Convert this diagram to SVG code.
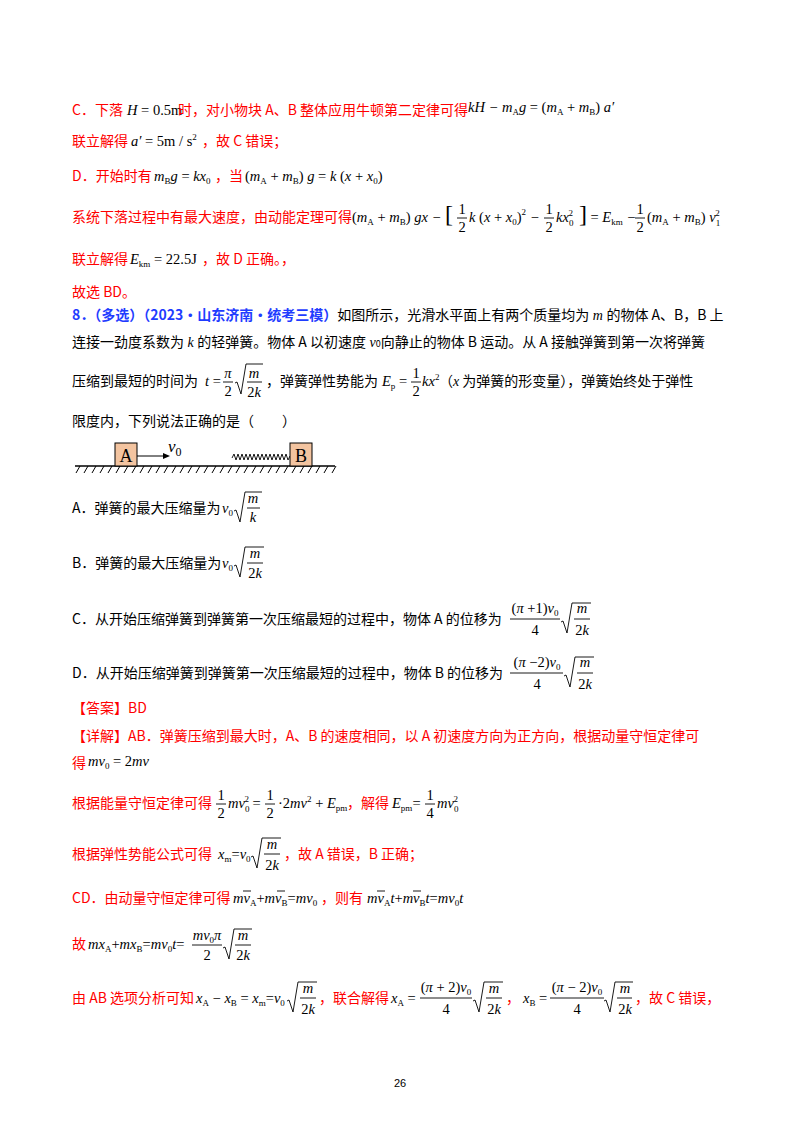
<svg xmlns="http://www.w3.org/2000/svg" width="800" height="1132" viewBox="0 0 800 1132">
<style>
.c{font-family:"Noto Sans CJK SC",sans-serif;font-size:14px}
.r{fill:#f00}
.bl{fill:#1f3cff;font-weight:bold}
.m{font-family:"Liberation Serif",serif;font-style:italic;font-size:14.5px;fill:#000}
.n{font-style:normal}
.sb{font-size:9px;font-style:normal}
.sp{font-size:9px;font-style:normal}
.ln{stroke:#000;stroke-width:0.9;fill:none}
</style>
<rect width="800" height="1132" fill="#fff"/>
<g id="solution-top">
<text x="72" y="115" class="c r">C．下落</text>
<text x="127" y="115" class="m">H <tspan class="n">= 0.5m</tspan></text>
<text x="178" y="115" class="c r">时，对小物块 A、B 整体应用牛顿第二定律可得</text>
<text x="468" y="112" class="m">kH − m<tspan class="sb" dy="3">A</tspan><tspan dy="-3">g <tspan class="n">= (</tspan>m</tspan><tspan class="sb" dy="3">A</tspan><tspan dy="-3" class="n"> + </tspan><tspan dy="0">m</tspan><tspan class="sb" dy="3">B</tspan><tspan dy="-3" class="n">)</tspan> a′</text>

<text x="72" y="146" class="c r">联立解得</text>
<text x="131" y="146" class="m">a′ <tspan class="n">= 5m / s</tspan><tspan class="sp" dy="-6">2</tspan></text>
<text x="202" y="146" class="c r">，故 C 错误；</text>

<text x="72" y="181" class="c r">D．开始时有</text>
<text x="154" y="181" class="m">m<tspan class="sb" dy="3">B</tspan><tspan dy="-3">g <tspan class="n">=</tspan> kx</tspan><tspan class="sb" dy="3">0</tspan></text>
<text x="215" y="181" class="c r">，当</text>
<text x="245" y="181" class="m"><tspan class="n">(</tspan>m<tspan class="sb" dy="3">A</tspan><tspan dy="-3" class="n"> + </tspan>m<tspan class="sb" dy="3">B</tspan><tspan dy="-3" class="n">)</tspan> g <tspan class="n">=</tspan> k <tspan class="n">(</tspan>x <tspan class="n">+</tspan> x<tspan class="sb" dy="3">0</tspan><tspan dy="-3" class="n">)</tspan></text>

<text x="72" y="222" class="c r">系统下落过程中有最大速度，由动能定理可得</text>
<text x="352" y="222" class="m"><tspan class="n">(</tspan>m<tspan class="sb" dy="3">A</tspan><tspan dy="-3" class="n"> + </tspan>m<tspan class="sb" dy="3">B</tspan><tspan dy="-3" class="n">)</tspan> gx − <tspan class="n" font-size="24">[</tspan></text>
<text x="462" y="214" class="m n" text-anchor="middle">1</text><line x1="457" y1="218" x2="467" y2="218" class="ln"/><text x="462" y="232" class="m n" text-anchor="middle">2</text>
<text x="469" y="222" class="m">k <tspan class="n">(</tspan>x <tspan class="n">+</tspan> x<tspan class="sb" dy="3">0</tspan><tspan dy="-3" class="n">)</tspan><tspan class="sp" dy="-7">2</tspan><tspan dy="7"> −</tspan></text>
<text x="549" y="214" class="m n" text-anchor="middle">1</text><line x1="544" y1="218" x2="554" y2="218" class="ln"/><text x="549" y="232" class="m n" text-anchor="middle">2</text>
<text x="556" y="222" class="m">kx<tspan class="sb" dy="4">0</tspan><tspan class="sp" dx="-5" dy="-10">2</tspan><tspan dy="6" class="n" font-size="24"> ]</tspan><tspan class="n"> = </tspan><tspan>E</tspan><tspan class="sb" dy="3">km</tspan><tspan dy="-3"> −</tspan></text>
<text x="640" y="214" class="m n" text-anchor="middle">1</text><line x1="635" y1="218" x2="645" y2="218" class="ln"/><text x="640" y="232" class="m n" text-anchor="middle">2</text>
<text x="647" y="222" class="m"><tspan class="n">(</tspan>m<tspan class="sb" dy="3">A</tspan><tspan dy="-3" class="n"> + </tspan>m<tspan class="sb" dy="3">B</tspan><tspan dy="-3" class="n">)</tspan> v<tspan class="sb" dy="4">1</tspan><tspan class="sp" dx="-5" dy="-10">2</tspan></text>

<text x="72" y="264" class="c r">联立解得</text>
<text x="130" y="264" class="m">E<tspan class="sb" dy="3">km</tspan><tspan dy="-3" class="n"> = 22.5J</tspan></text>
<text x="202" y="264" class="c r">，故 D 正确。，</text>
<text x="72" y="297" class="c r">故选 BD。</text>
</g>

<g id="question">
<text x="72" y="320" class="c"><tspan class="bl">8．（多选）（2023·山东济南·统考三模）</tspan>如图所示，光滑水平面上有两个质量均为<tspan font-family="Liberation Serif" font-style="italic"> m </tspan>的物体 A、B，B 上</text>
<text x="72" y="347" class="c">连接一劲度系数为<tspan font-family="Liberation Serif" font-style="italic"> k </tspan>的轻弹簧。物体 A 以初速度<tspan font-family="Liberation Serif" font-style="italic"> v</tspan><tspan font-size="9">0</tspan>向静止的物体 B 运动。从 A 接触弹簧到第一次将弹簧</text>
<text x="72" y="386" class="c">压缩到最短的时间为</text>
<text x="205" y="386" class="m">t <tspan class="n">=</tspan></text>
<text x="228" y="378" class="m" text-anchor="middle">π</text><line x1="223" y1="382" x2="233" y2="382" class="ln"/><text x="228" y="396" class="m n" text-anchor="middle">2</text>
<path d="M235,383 l2,-1 l4,12 l5,-30 H263" class="ln"/>
<text x="254" y="378" class="m" text-anchor="middle">m</text><line x1="247" y1="382" x2="262" y2="382" class="ln"/><text x="254" y="397" class="m" text-anchor="middle"><tspan class="n">2</tspan>k</text>
<text x="266" y="386" class="c">，弹簧弹性势能为</text>
<text x="382" y="386" class="m">E<tspan class="sb" dy="3">p</tspan><tspan dy="-3" class="n"> =</tspan></text>
<text x="416" y="378" class="m n" text-anchor="middle">1</text><line x1="411" y1="382" x2="421" y2="382" class="ln"/><text x="416" y="396" class="m n" text-anchor="middle">2</text>
<text x="422" y="386" class="m">kx<tspan class="sp" dy="-6">2</tspan></text>
<text x="439" y="386" class="c">（<tspan font-family="Liberation Serif" font-style="italic">x</tspan> 为弹簧的形变量），弹簧始终处于弹性</text>
<text x="72" y="426" class="c">限度内，下列说法正确的是（　　）</text>
</g>

<g id="figure">
<line x1="75" y1="466" x2="335" y2="466" stroke="#000" stroke-width="1.5"/>
<path d="M80,466 l-4,7 M88,466 l-4,7 M96,466 l-4,7 M104,466 l-4,7 M112,466 l-4,7 M120,466 l-4,7 M128,466 l-4,7 M136,466 l-4,7 M144,466 l-4,7 M152,466 l-4,7 M160,466 l-4,7 M168,466 l-4,7 M176,466 l-4,7 M184,466 l-4,7 M192,466 l-4,7 M200,466 l-4,7 M208,466 l-4,7 M216,466 l-4,7 M224,466 l-4,7 M232,466 l-4,7 M240,466 l-4,7 M248,466 l-4,7 M256,466 l-4,7 M264,466 l-4,7 M272,466 l-4,7 M280,466 l-4,7 M288,466 l-4,7 M296,466 l-4,7 M304,466 l-4,7 M312,466 l-4,7 M320,466 l-4,7 M328,466 l-4,7 M336,466 l-4,7" stroke="#000" stroke-width="1"/>
<rect x="115" y="443" width="22" height="23" fill="#f3c4a0" stroke="#000"/>
<text x="126" y="462" font-family="Liberation Serif" font-size="18" text-anchor="middle">A</text>
<line x1="137" y1="456" x2="166" y2="456" stroke="#000"/>
<path d="M170,456 l-7,-3 v6 z" fill="#000"/>
<text x="168" y="452" font-family="Liberation Serif" font-style="italic" font-size="17">v<tspan font-size="12" font-style="normal" dy="4">0</tspan></text>
<path d="M232,458 l2,-4 l2,6 l2,-6 l2,6 l2,-6 l2,6 l2,-6 l2,6 l2,-6 l2,6 l2,-6 l2,6 l2,-6 l2,6 l2,-6 l2,6 l2,-6 l2,6 l2,-6 l2,6 l2,-6 l2,6 l2,-6 l2,6 l2,-6 l2,6 l2,-6 l2,6 l2,-4" stroke="#000" fill="none" stroke-width="0.9"/>
<rect x="290" y="443" width="22" height="23" fill="#f3c4a0" stroke="#000"/>
<text x="301" y="462" font-family="Liberation Serif" font-size="18" text-anchor="middle">B</text>
</g>

<g id="options">
<text x="72" y="513" class="c">A．弹簧的最大压缩量为</text>
<text x="222" y="513" class="m">v<tspan class="sb" dy="3">0</tspan></text>
<path d="M234,511 l2,-1 l4,12 l5,-30 H262" class="ln"/>
<text x="253" y="503" class="m" text-anchor="middle">m</text><line x1="247" y1="508" x2="260" y2="508" class="ln"/><text x="253" y="522" class="m" text-anchor="middle">k</text>

<text x="72" y="568" class="c">B．弹簧的最大压缩量为</text>
<text x="222" y="568" class="m">v<tspan class="sb" dy="3">0</tspan></text>
<path d="M234,566 l2,-1 l4,12 l5,-30 H264" class="ln"/>
<text x="255" y="558" class="m" text-anchor="middle">m</text><line x1="247" y1="563" x2="263" y2="563" class="ln"/><text x="255" y="578" class="m" text-anchor="middle"><tspan class="n">2</tspan>k</text>

<text x="72" y="624" class="c">C．从开始压缩弹簧到弹簧第一次压缩最短的过程中，物体 A 的位移为</text>
<text x="535" y="613" class="m" text-anchor="middle"><tspan class="n">(</tspan>π <tspan class="n">+1)</tspan>v<tspan class="sb" dy="3">0</tspan></text>
<line x1="510" y1="619" x2="560" y2="619" class="ln"/><text x="535" y="635" class="m n" text-anchor="middle">4</text>
<path d="M561,622 l2,-1 l4,12 l5,-30 H591" class="ln"/>
<text x="582" y="613" class="m" text-anchor="middle">m</text><line x1="574" y1="619" x2="590" y2="619" class="ln"/><text x="582" y="635" class="m" text-anchor="middle"><tspan class="n">2</tspan>k</text>

<text x="72" y="678" class="c">D．从开始压缩弹簧到弹簧第一次压缩最短的过程中，物体 B 的位移为</text>
<text x="537" y="667" class="m" text-anchor="middle"><tspan class="n">(</tspan>π <tspan class="n">−2)</tspan>v<tspan class="sb" dy="3">0</tspan></text>
<line x1="510" y1="673" x2="563" y2="673" class="ln"/><text x="537" y="689" class="m n" text-anchor="middle">4</text>
<path d="M564,676 l2,-1 l4,12 l5,-30 H594" class="ln"/>
<text x="585" y="667" class="m" text-anchor="middle">m</text><line x1="577" y1="673" x2="593" y2="673" class="ln"/><text x="585" y="689" class="m" text-anchor="middle"><tspan class="n">2</tspan>k</text>
</g>

<g id="answer">
<text x="72" y="713" class="c r">【答案】BD</text>
<text x="72" y="741" class="c r">【详解】AB．弹簧压缩到最大时，A、B 的速度相同，以 A 初速度方向为正方向，根据动量守恒定律可</text>
<text x="72" y="768" class="c r">得</text>
<text x="88" y="766" class="m">mv<tspan class="sb" dy="3">0</tspan><tspan dy="-3" class="n"> = 2</tspan>mv</text>

<text x="72" y="808" class="c r">根据能量守恒定律可得</text>
<text x="221" y="800" class="m n" text-anchor="middle">1</text><line x1="216" y1="804" x2="226" y2="804" class="ln"/><text x="221" y="818" class="m n" text-anchor="middle">2</text>
<text x="228" y="808" class="m">mv<tspan class="sb" dy="4">0</tspan><tspan class="sp" dx="-5" dy="-10">2</tspan><tspan dy="6" class="n"> =</tspan></text>
<text x="270" y="800" class="m n" text-anchor="middle">1</text><line x1="265" y1="804" x2="275" y2="804" class="ln"/><text x="270" y="818" class="m n" text-anchor="middle">2</text>
<text x="278" y="808" class="m"><tspan class="n">·2</tspan>mv<tspan class="sp" dy="-6">2</tspan><tspan dy="6" class="n"> + </tspan>E<tspan class="sb" dy="3">pm</tspan></text>
<text x="347" y="808" class="c r">，解得</text>
<text x="392" y="808" class="m">E<tspan class="sb" dy="3">pm</tspan><tspan dy="-3" class="n">=</tspan></text>
<text x="430" y="800" class="m n" text-anchor="middle">1</text><line x1="425" y1="804" x2="435" y2="804" class="ln"/><text x="430" y="818" class="m n" text-anchor="middle">4</text>
<text x="437" y="808" class="m">mv<tspan class="sb" dy="4">0</tspan><tspan class="sp" dx="-5" dy="-10">2</tspan></text>

<text x="72" y="859" class="c r">根据弹性势能公式可得</text>
<text x="218" y="859" class="m">x<tspan class="sb" dy="3">m</tspan><tspan dy="-3" class="n">=</tspan>v<tspan class="sb" dy="3">0</tspan></text>
<path d="M251,857 l2,-1 l4,12 l5,-30 H281" class="ln"/>
<text x="272" y="849" class="m" text-anchor="middle">m</text><line x1="264" y1="854" x2="280" y2="854" class="ln"/><text x="272" y="870" class="m" text-anchor="middle"><tspan class="n">2</tspan>k</text>
<text x="284" y="859" class="c r">，故 A 错误，B 正确；</text>

<text x="72" y="903" class="c r">CD．由动量守恒定律可得</text>
<text x="233" y="903" class="m">mv<tspan class="sb" dy="3">A</tspan><tspan dy="-3" class="n">+</tspan>mv<tspan class="sb" dy="3">B</tspan><tspan dy="-3" class="n">=</tspan>mv<tspan class="sb" dy="3">0</tspan></text>
<line x1="243" y1="891" x2="251" y2="891" class="ln"/><line x1="277" y1="891" x2="285" y2="891" class="ln"/>
<text x="321" y="903" class="c r">，则有</text>
<text x="367" y="903" class="m">mv<tspan class="sb" dy="3">A</tspan><tspan dy="-3">t</tspan><tspan class="n">+</tspan>mv<tspan class="sb" dy="3">B</tspan><tspan dy="-3">t</tspan><tspan class="n">=</tspan>mv<tspan class="sb" dy="3">0</tspan><tspan dy="-3">t</tspan></text>
<line x1="377" y1="891" x2="385" y2="891" class="ln"/><line x1="413" y1="891" x2="421" y2="891" class="ln"/>

<text x="72" y="949" class="c r">故</text>
<text x="88" y="949" class="m">mx<tspan class="sb" dy="3">A</tspan><tspan dy="-3" class="n">+</tspan>mx<tspan class="sb" dy="3">B</tspan><tspan dy="-3" class="n">=</tspan>mv<tspan class="sb" dy="3">0</tspan><tspan dy="-3">t</tspan><tspan class="n">=</tspan></text>
<text x="207" y="940" class="m" text-anchor="middle">mv<tspan class="sb" dy="3">0</tspan><tspan dy="-3">π</tspan></text>
<line x1="192" y1="945" x2="222" y2="945" class="ln"/><text x="207" y="960" class="m n" text-anchor="middle">2</text>
<path d="M223,948 l2,-1 l4,12 l5,-30 H252" class="ln"/>
<text x="243" y="940" class="m" text-anchor="middle">m</text><line x1="235" y1="945" x2="251" y2="945" class="ln"/><text x="243" y="960" class="m" text-anchor="middle"><tspan class="n">2</tspan>k</text>

<text x="72" y="1003" class="c r">由 AB 选项分析可知</text>
<text x="196" y="1003" class="m">x<tspan class="sb" dy="3">A</tspan><tspan dy="-3" class="n"> − </tspan>x<tspan class="sb" dy="3">B</tspan><tspan dy="-3" class="n"> = </tspan>x<tspan class="sb" dy="3">m</tspan><tspan dy="-3" class="n">=</tspan>v<tspan class="sb" dy="3">0</tspan></text>
<path d="M287,1001 l2,-1 l4,12 l5,-30 H317" class="ln"/>
<text x="308" y="993" class="m" text-anchor="middle">m</text><line x1="300" y1="998" x2="316" y2="998" class="ln"/><text x="308" y="1014" class="m" text-anchor="middle"><tspan class="n">2</tspan>k</text>
<text x="319" y="1003" class="c r">，联合解得</text>
<text x="391" y="1003" class="m">x<tspan class="sb" dy="3">A</tspan><tspan dy="-3" class="n"> =</tspan></text>
<text x="446" y="992" class="m" text-anchor="middle"><tspan class="n">(</tspan>π <tspan class="n">+ 2)</tspan>v<tspan class="sb" dy="3">0</tspan></text>
<line x1="420" y1="998" x2="472" y2="998" class="ln"/><text x="446" y="1014" class="m n" text-anchor="middle">4</text>
<path d="M473,1001 l2,-1 l4,12 l5,-30 H503" class="ln"/>
<text x="494" y="993" class="m" text-anchor="middle">m</text><line x1="486" y1="998" x2="502" y2="998" class="ln"/><text x="494" y="1014" class="m" text-anchor="middle"><tspan class="n">2</tspan>k</text>
<text x="506" y="1003" class="c r">，</text>
<text x="523" y="1003" class="m">x<tspan class="sb" dy="3">B</tspan><tspan dy="-3" class="n"> =</tspan></text>
<text x="577" y="992" class="m" text-anchor="middle"><tspan class="n">(</tspan>π <tspan class="n">− 2)</tspan>v<tspan class="sb" dy="3">0</tspan></text>
<line x1="550" y1="998" x2="604" y2="998" class="ln"/><text x="577" y="1014" class="m n" text-anchor="middle">4</text>
<path d="M604,1001 l2,-1 l4,12 l5,-30 H633" class="ln"/>
<text x="625" y="993" class="m" text-anchor="middle">m</text><line x1="617" y1="998" x2="632" y2="998" class="ln"/><text x="625" y="1014" class="m" text-anchor="middle"><tspan class="n">2</tspan>k</text>
<text x="635" y="1003" class="c r">，故 C 错误，</text>
</g>
<text x="400" y="1087" font-family="Liberation Sans, sans-serif" font-size="11" text-anchor="middle">26</text>
</svg>
